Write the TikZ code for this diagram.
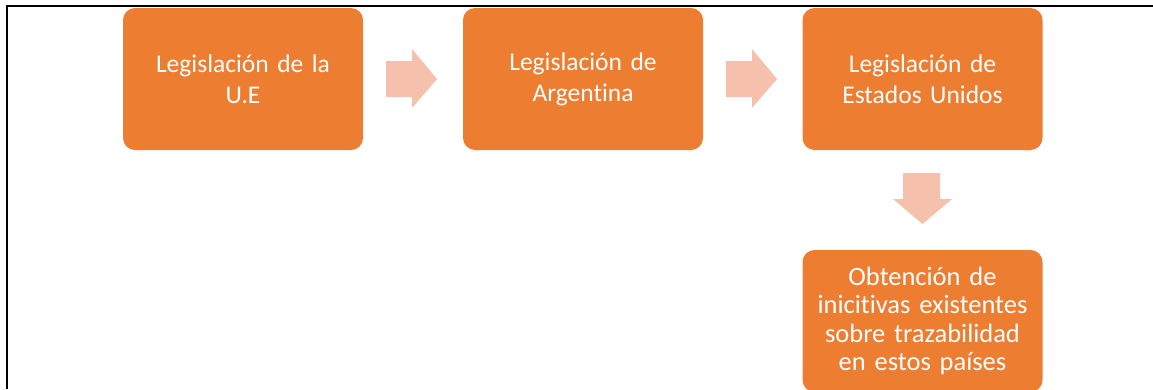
\documentclass[tikz,border=0pt]{standalone}
\usepackage{fontspec}
\setmainfont{Carlito}[Ligatures={NoCommon}]
\definecolor{boxorange}{HTML}{ED7D31}
\definecolor{arrowpink}{HTML}{F5C0AC}
\begin{document}
\begin{tikzpicture}[x=1pt,y=-1pt,
  stepbox/.style={fill=boxorange, draw=none, rounded corners=12pt, minimum width=240pt, minimum height=142pt, inner sep=0pt, text=white, align=center, text width=230pt, font=\fontsize{25.5}{31}\selectfont},
  arr/.style={fill=arrowpink, draw=none}]
\useasboundingbox (0,0) rectangle (1153,389);
\begin{scope}
\clip (0,0) rectangle (1153,389);
\draw[line width=2.5pt] (7,389) -- (7,6) -- (1153,6);
\node[stepbox] (ue) at (243,79) {Legislación de la\\U.E};
\node[stepbox] (ar) at (583,79) {Legislación de\\Argentina};
\node[stepbox] (us) at (922.5,79) {Legislación de\\Estados Unidos};
\node[stepbox, font=\fontsize{26.5}{28.5}\selectfont] (ob) at (922.5,321) {Obtención de\\inicitivas existentes\\sobre trazabilidad\\en estos países};
\fill[arr] (386,61) -- (412,61) -- (412,49) -- (437,79) -- (412,108) -- (412,97) -- (386,97) -- cycle;
\fill[arr] (726,61) -- (752,61) -- (752,49) -- (777,79) -- (752,108) -- (752,97) -- (726,97) -- cycle;
\fill[arr] (903,173) -- (940,173) -- (940,199) -- (952,199) -- (922.5,224) -- (893,199) -- (903,199) -- cycle;
\end{scope}
\end{tikzpicture}
\end{document}
